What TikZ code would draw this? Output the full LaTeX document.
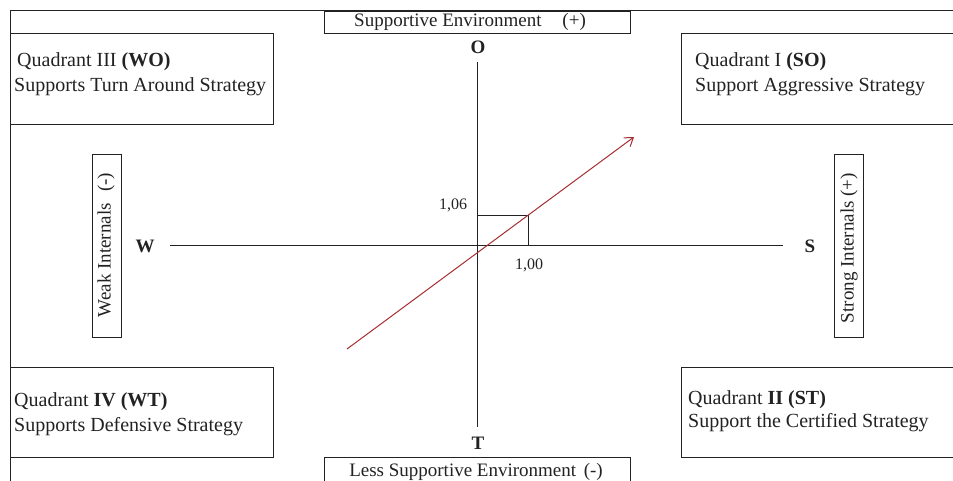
\documentclass[tikz,border=0pt]{standalone}
\usepackage{fontspec}
\setmainfont{Liberation Serif}
\usetikzlibrary{arrows.meta}
\definecolor{ink}{HTML}{222222}
\definecolor{vec}{RGB}{165,45,50}
\begin{document}
\begin{tikzpicture}[x=1pt,y=-1pt,
  box/.style={draw=ink, line width=1pt, inner sep=0pt, anchor=north west},
  txt/.style={inner sep=0pt, anchor=west, font=\fontsize{20}{23}\selectfont, text=ink},
  ctxt/.style={inner sep=0pt, font=\fontsize{19}{22}\selectfont, text=ink},
  axl/.style={inner sep=0pt, font=\fontsize{19}{22}\selectfont\bfseries, text=ink},
  num/.style={inner sep=0pt, font=\fontsize{16}{19}\selectfont, text=ink},
  line/.style={draw=ink, line width=1pt}]
\useasboundingbox (0,0) rectangle (953,481);

% outer frame (cropped at right and bottom)
\coordinate (fBL) at (10,495);
\coordinate (fTL) at (10,11);
\coordinate (fTR) at (965,11);
\draw[line] (fBL) -- (fTL) -- (fTR);

% environment boxes
\node[box, minimum width=306pt, minimum height=22pt] (envP) at (324,11) {};
\node[ctxt] (envPt) at (470,22) {Supportive Environment\hspace{1.1em}(+)};
\node[box, minimum width=306pt, minimum height=40pt] (envM) at (324,457) {};
\node[ctxt] (envMt) at (476,472) {Less Supportive Environment\hspace{0.4em}(-)};

% quadrant boxes
\node[box, minimum width=263pt, minimum height=91pt] (q3) at (10,33) {};
\node[txt] (q3a) at (17,62) {Quadrant III \textbf{(WO)}};
\node[txt] (q3b) at (14,87) {Supports Turn Around Strategy};

\node[box, minimum width=290pt, minimum height=91pt] (q1) at (681,33) {};
\node[txt] (q1a) at (695,62) {Quadrant I \textbf{(SO)}};
\node[txt] (q1b) at (695,87) {Support Aggressive Strategy};

\node[box, minimum width=263pt, minimum height=90pt] (q4) at (10,367) {};
\node[txt] (q4a) at (14,402) {Quadrant \textbf{IV (WT)}};
\node[txt] (q4b) at (14,427) {Supports Defensive Strategy};

\node[box, minimum width=290pt, minimum height=90pt] (q2) at (681,367) {};
\node[txt] (q2a) at (688,400) {Quadrant \textbf{II (ST)}};
\node[txt] (q2b) at (688,423) {Support the Certified Strategy};

% internals boxes
\node[box, minimum width=29pt, minimum height=183pt] (weak) at (91.5,154) {};
\node[ctxt, rotate=90] (weakt) at (106,245) {Weak Internals\hspace{0.6em}(-)};
\node[box, minimum width=29pt, minimum height=183pt] (strong) at (834,154) {};
\node[ctxt, rotate=90] (strongt) at (849,248) {Strong Internals (+)};

% axis labels
\node[axl] (O) at (478,47) {O};
\node[axl] (T) at (478,443) {T};
\node[axl] (W) at (145,246) {W};
\node[axl] (S) at (810,246) {S};

% axes
\coordinate (yTop) at (477,62);
\coordinate (yBot) at (477,427);
\coordinate (xL) at (170,245);
\coordinate (xR) at (783,245);
\draw[line] (yTop) -- (yBot);
\draw[line] (xL) -- (xR);

% point rectangle
\coordinate (p0) at (477,245);
\coordinate (p1) at (528,216);
\draw[line] (p0) rectangle (p1);
\node[num] (v106) at (453,205) {1,06};
\node[num] (v100) at (529,265) {1,00};

% strategy vector
\coordinate (a0) at (347,349);
\coordinate (a1) at (634,137);
\draw[vec, line width=1pt, -{Straight Barb[length=8pt,width=11pt]}] (a0) -- (a1);
\end{tikzpicture}
\end{document}
